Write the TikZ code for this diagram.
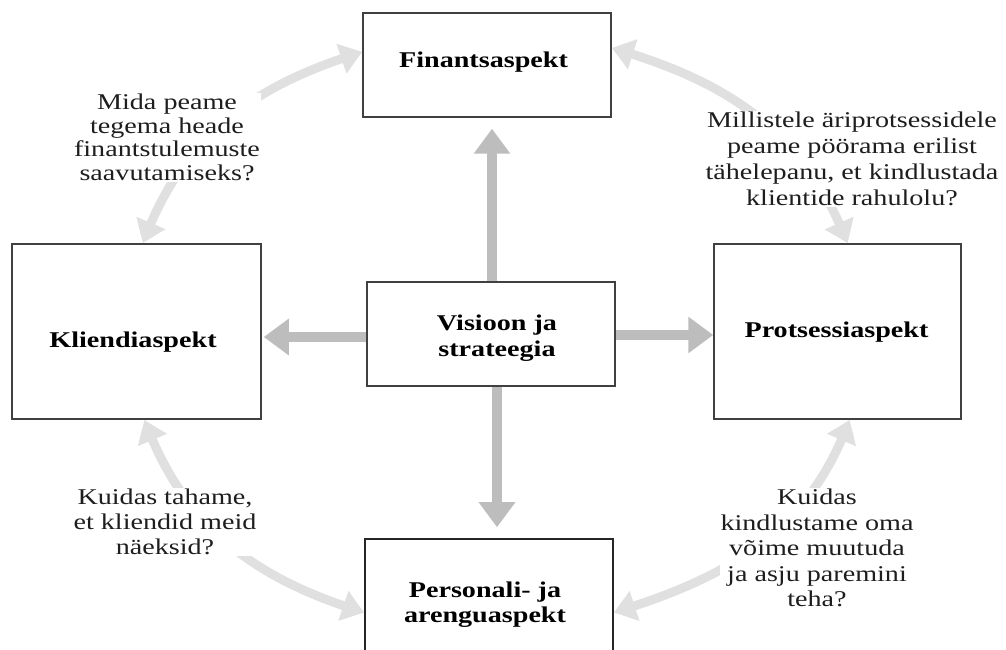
\documentclass[tikz,border=0pt]{standalone}
\usepackage{fontspec}
\setmainfont{Liberation Serif}[FakeStretch=1.25]
\usetikzlibrary{arrows.meta,bending}
\definecolor{boxline}{HTML}{404040}
\definecolor{straightgray}{HTML}{BDBDBD}
\definecolor{arcgray}{HTML}{E0E0E0}
\definecolor{txt}{HTML}{1E1E1E}
\tikzset{
  aspect/.style={draw=boxline, line width=1.5pt, fill=white, inner sep=0pt},
  boxlabel/.style={font=\fontsize{22.5}{26}\selectfont\bfseries, text=black, align=center, anchor=base, inner sep=0pt},
  qtext/.style={font=\fontsize{22.5}{25}\selectfont, text=txt, align=center, anchor=base, fill=white, inner sep=1pt},
  bigarrow/.style={draw=straightgray, line width=10pt, -{Triangle[length=25pt,width=35pt]}},
  arcarrow/.style={draw=arcgray, line width=9pt, {Triangle[bend,length=22pt,width=30pt]}-{Triangle[bend,length=22pt,width=30pt]}}
}
\begin{document}
\begin{tikzpicture}[x=1pt,y=1pt]
\useasboundingbox (0,0) rectangle (1006,650);
\clip (0,0) rectangle (1006,650);
% boxes
\node[aspect, minimum width=248pt, minimum height=104pt] (fin) at (487,585) {};
\node[aspect, minimum width=249pt, minimum height=175pt] (klient) at (136.5,318.5) {};
\node[aspect, minimum width=248pt, minimum height=104pt] (vis) at (491,316) {};
\node[aspect, minimum width=247pt, minimum height=175pt] (proc) at (837.5,318.5) {};
\node[aspect, draw=black!85, minimum width=248pt, minimum height=151pt] (pers) at (489,35.5) {};
% box labels (anchor base = last line)
\node[boxlabel] (finL) at (483.5,582) {Finantsaspekt};
\node[boxlabel] (klientL) at (133,302) {Kliendiaspekt};
\node[boxlabel] (procL) at (836.5,312) {Protsessiaspekt};
\node[boxlabel] (visL) at (497,293) {Visioon ja\\strateegia};
\node[boxlabel, font=\fontsize{22.5}{25}\selectfont\bfseries] (persL) at (485,27) {Personali- ja\\arenguaspekt};
% straight arrows
\draw[bigarrow, shorten >=11pt] ([xshift=1pt]vis.north) -- ([xshift=1pt]vis.north |- fin.south);
\draw[bigarrow, shorten >=11pt] ([xshift=6pt]vis.south) -- ([xshift=6pt]vis.south |- pers.north);
\draw[bigarrow, shorten >=2pt] ([yshift=-3pt]vis.west) -- ([yshift=-3pt]vis.west -| klient.east);
\draw[bigarrow] ([yshift=-1pt]vis.east) -- ([yshift=-1pt]vis.east -| proc.west);
% curved arrows
\coordinate (a1s) at ([xshift=6.5pt]klient.north);
\coordinate (a1e) at ([yshift=13pt]fin.west);
\coordinate (a2s) at ([yshift=17pt]fin.east);
\coordinate (a2e) at ([xshift=10pt]proc.north);
\coordinate (a3s) at ([xshift=12pt]proc.south);
\coordinate (a3e) at ([yshift=2pt]pers.east);
\coordinate (a4s) at ([xshift=8pt]klient.south);
\coordinate (a4e) at ([yshift=2pt]pers.west);
\draw[arcarrow] (a1s) to[out=70,in=197] (a1e);
\draw[arcarrow] (a2s) to[out=-16,in=111] (a2e);
\draw[arcarrow] (a3s) to[out=250,in=17] (a3e);
\draw[arcarrow] (a4s) to[out=-70,in=163] (a4e);
% questions (anchor base = last line)
\node[qtext, font=\fontsize{22.5}{23.5}\selectfont] (q1) at (167,469.5) {Mida peame\\tegema heade\\finantstulemuste\\saavutamiseks?};
\node[qtext, font=\fontsize{22.5}{26}\selectfont] (q2) at (852,444) {Millistele äriprotsessidele\\peame pöörama erilist\\tähelepanu, et kindlustada\\klientide rahulolu?};
\node[qtext] (q3) at (165,95) {Kuidas tahame,\\et kliendid meid\\näeksid?};
\node[qtext, font=\fontsize{22.5}{25.5}\selectfont] (q4) at (817,43) {Kuidas\\kindlustame oma\\võime muutuda\\ja asju paremini\\teha?};
\end{tikzpicture}
\end{document}
